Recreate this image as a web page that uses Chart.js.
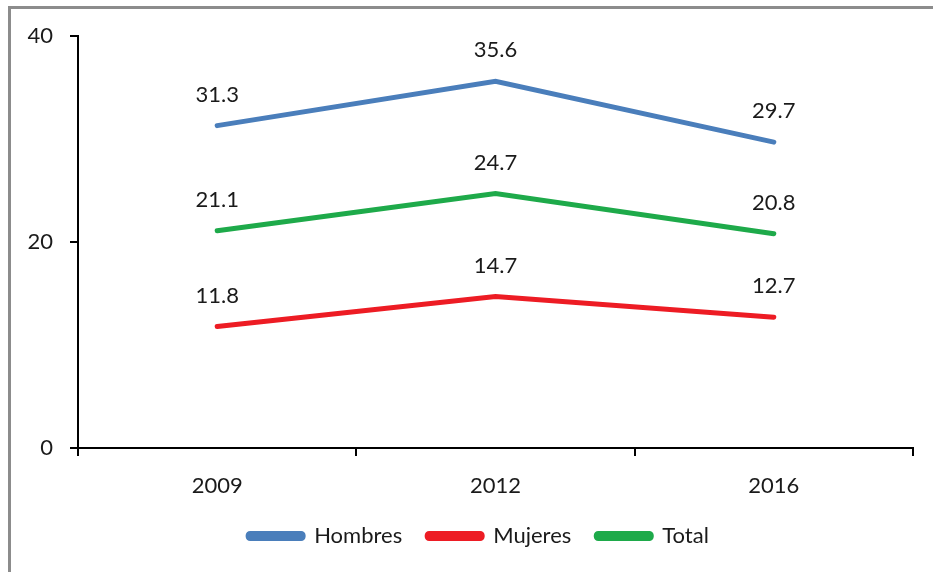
<!DOCTYPE html>
<html>
<head>
<meta charset="utf-8">
<script src="https://cdn.jsdelivr.net/npm/chart.js@4/dist/chart.umd.min.js"></script>
<style>
  body { margin: 0; background: #fff; }
  #wrap { position: relative; width: 933px; height: 572px; }
  #frame {
    position: absolute; left: 8px; top: 6px; width: 925px; height: 566px;
    border-top: 3px solid #8c8c8c; border-left: 3px solid #8c8c8c;
    box-sizing: border-box; pointer-events: none;
  }
</style>
</head>
<body>
<div id="wrap">
  <canvas id="myChart" width="933" height="572"></canvas>
  <div id="frame"></div>
</div>
<script>
const years = ["2009", "2012", "2016"];
const hombres = [31.3, 35.6, 29.7];
const mujeres = [11.8, 14.7, 12.7];
const total = [21.1, 24.7, 20.8];
const yTicks = [0, 20, 40];

const FONT = "Lato";

// values written above each point
const valueLabels = {
  id: "valueLabels",
  afterDatasetsDraw(chart) {
    const ctx = chart.ctx;
    ctx.save();
    ctx.font = "22px " + FONT;
    ctx.fillStyle = "#1a1a1a";
    ctx.textAlign = "center";
    ctx.textBaseline = "middle";
    chart.data.datasets.forEach(function (ds, i) {
      chart.getDatasetMeta(i).data.forEach(function (pt, j) {
        ctx.fillText(ds.data[j].toFixed(1), pt.x, pt.y - 31);
      });
    });
    ctx.restore();
  }
};

// legend sits a little right of the canvas centre
const legendShift = {
  id: "legendShift",
  afterLayout(chart) {
    chart.legend.left += 44;
  }
};

new Chart("myChart", {
  type: "line",
  data: {
    labels: years,
    datasets: [
      { label: "Hombres", data: hombres, borderColor: "#4a7ebb", backgroundColor: "#4a7ebb" },
      { label: "Mujeres", data: mujeres, borderColor: "#ed1c24", backgroundColor: "#ed1c24" },
      { label: "Total", data: total, borderColor: "#1eaa4a", backgroundColor: "#1eaa4a" }
    ]
  },
  options: {
    responsive: false,
    animation: false,
    devicePixelRatio: 1,
    layout: { padding: { top: 36, right: 20, bottom: 15, left: 0 } },
    elements: {
      line: { borderWidth: 5, tension: 0, borderCapStyle: "round", fill: false },
      point: { radius: 0, hoverRadius: 0 }
    },
    plugins: {
      tooltip: { enabled: false },
      legend: {
        position: "bottom",
        labels: {
          font: { family: FONT, size: 22 },
          color: "#1a1a1a",
          boxWidth: 55,
          boxHeight: 5,
          padding: 25,
          useBorderRadius: true,
          borderRadius: 2
        }
      }
    },
    scales: {
      x: {
        offset: true,
        grid: { offset: true, drawOnChartArea: false, drawTicks: true, tickLength: 8, color: "#000", lineWidth: 2 },
        border: { color: "#000", width: 2 },
        ticks: { font: { family: FONT, size: 22 }, color: "#1a1a1a", padding: 17 },
        afterFit(scale) { scale.height = 52; }
      },
      y: {
        min: 0,
        max: 40,
        afterBuildTicks(scale) { scale.ticks = yTicks.map(function (v) { return { value: v }; }); },
        grid: { drawOnChartArea: false, drawTicks: true, tickLength: 8, color: "#000", lineWidth: 2 },
        border: { color: "#000", width: 2 },
        ticks: { font: { family: FONT, size: 22 }, color: "#1a1a1a", padding: 17 },
        afterFit(scale) { scale.width = 78; }
      }
    }
  },
  plugins: [valueLabels, legendShift]
});
</script>
</body>
</html>
